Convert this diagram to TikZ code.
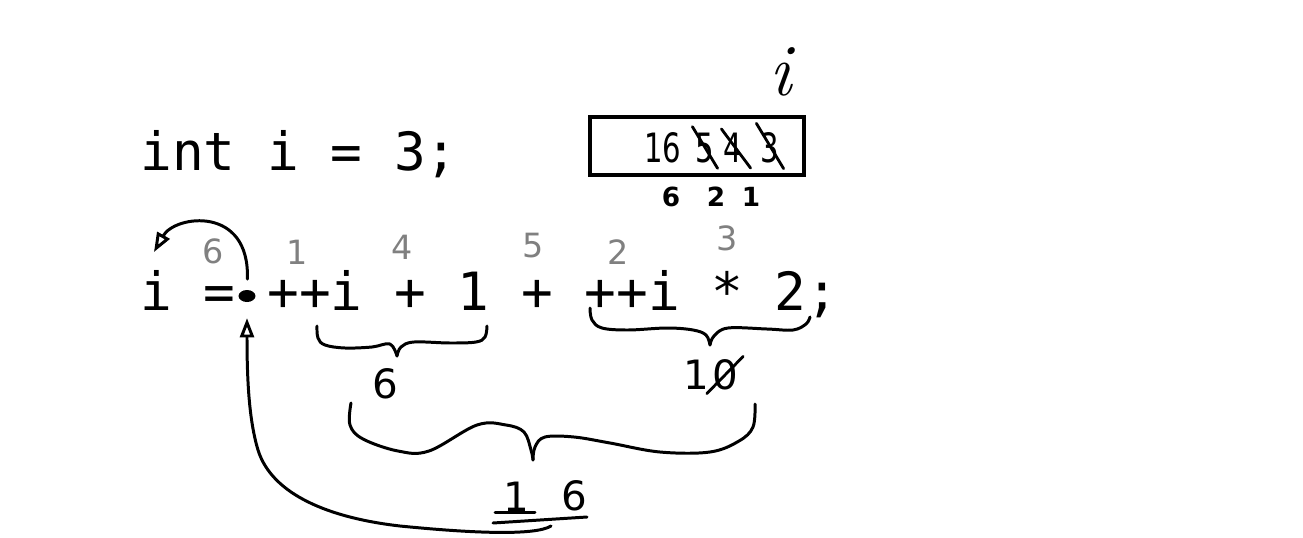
\documentclass[tikz,border=0pt]{standalone}
\usepackage{fontspec}
\setmonofont{DejaVu Sans Mono}
\newfontfamily\handfont{DejaVu Sans}
\usetikzlibrary{arrows.meta,positioning,shapes.geometric}
\definecolor{pencil}{HTML}{808080}
\newcommand{\narrow}[1]{\scalebox{0.72}[1]{#1}}
\tikzset{
  code/.style={anchor=base west, inner sep=0pt, font=\ttfamily\fontsize{30}{36}\selectfont},
  order/.style={inner sep=0pt, text=pencil, font=\handfont\fontsize{19}{22}\selectfont},
  val/.style={inner sep=0pt, font=\handfont\fontsize{23}{27}\selectfont},
  cellidx/.style={inner sep=0pt, font=\handfont\bfseries\fontsize{15}{18}\selectfont},
  cell/.style={rectangle, draw=black, line width=2.5pt, minimum width=4.28cm, minimum height=1.16cm},
  blob/.style={ellipse, fill=black, inner sep=0pt, minimum width=0.34cm, minimum height=0.24cm},
  pen/.style={line width=1.7pt, line cap=round, line join=round},
  strike/.style={line width=1.6pt, line cap=round},
  tip/.style={-{Triangle[open, length=11pt, width=8pt]}}
}
\begin{document}
\begin{tikzpicture}[x=0.02cm, y=-0.02cm]
  \useasboundingbox (0,0) rectangle (1303,538);
  % source code
  \node[code] (decl) at (140,170) {int i = 3;};
  \node[code] (expr) at (140,310) {i = ++i + 1 + ++i * 2;};
  \node[blob] (dot) at (247,296) {};
  % order of evaluation
  \node[order] (o1) at (297,252) {1};
  \node[order] (o2) at (618,252) {2};
  \node[order] (o3) at (727,238) {3};
  \node[order] (o4) at (402,247) {4};
  \node[order] (o5) at (533,246) {5};
  \node[order] (o6) at (213,251) {6};
  % braces and partial results
  \draw[pen] plot[smooth, tension=0.6] coordinates {(317,326) (318,338) (325,345) (345,348) (372,347) (390,344) (397,356)};
  \draw[pen] plot[smooth, tension=0.6] coordinates {(487,326) (485,337) (476,342) (450,343) (414,342) (401,347) (397,356)};
  \node[val] (six) at (385,384) {6};
  \draw[pen] plot[smooth, tension=0.6] coordinates {(590,308) (592,320) (602,328) (628,330) (667,328) (693,330) (706,335) (710,345)};
  \draw[pen] plot[smooth, tension=0.6] coordinates {(810,317) (806,324) (793,330) (767,329) (728,328) (714,336) (710,345)};
  \node[val] (ten0) at (725,375) {0};
  \node[val, left=1pt of ten0] (ten1) {1};
  \draw[strike] ([shift={(-5,3)}]ten0.south west) -- ([shift={(5,-3)}]ten0.north east);
  \draw[pen] plot[smooth, tension=0.6] coordinates {(351,403) (350,425) (363,439) (398,451) (429,451) (477,425) (506,425) (524,432) (531,450) (533,460)};
  \draw[pen] plot[smooth, tension=0.6] coordinates {(755,404) (753,427) (739,441) (710,452) (660,452) (610,443) (574,437) (545,437) (535,447) (533,460)};
  \node[val] (res1) at (516,497) {1};
  \node[val] (res6) at (574,496) {6};
  \draw[pen] (495,512) -- (535,512);
  \draw[pen] (493,523) -- (587,517);
  \coordinate (tail) at (551,526);
  % assignment back into i
  \draw[pen, tip, shorten <=6pt] (dot.north) .. controls (250,205) and (175,215) .. (154,252);
  \draw[pen, tip, shorten >=9pt] (tail) .. controls (535,536) and (470,533) .. (400,526)
    .. controls (330,518) and (272,495) .. (258,450)
    .. controls (249,420) and (247,380) .. (dot.south);
  % memory cell of i
  \node[cell] (cell) at (697,146) {};
  \node[val] (c16) at (663,148) {\narrow{16}};
  \node[val] (c5) at (705,148) {\narrow{5}};
  \node[val] (c4) at (733,148) {\narrow{4}};
  \node[val] (c3) at (770,148) {\narrow{3}};
  \draw[strike] ([shift={(-3,-6)}]c5.north west) -- ([shift={(3,5)}]c5.south east);
  \draw[strike] ([shift={(-2,-4)}]c4.north west) -- ([shift={(8,5)}]c4.south east);
  \draw[strike] ([shift={(-4,-9)}]c3.north west) -- ([shift={(4,5)}]c3.south east);
  \node[inner sep=0pt, font=\itshape\fontsize{42}{46}\selectfont] (iname) at (781,72) {i};
  \node[cellidx] (x6) at (671,197) {6};
  \node[cellidx] (x2) at (716,197) {2};
  \node[cellidx] (x1) at (751,197) {1};
\end{tikzpicture}
\end{document}
